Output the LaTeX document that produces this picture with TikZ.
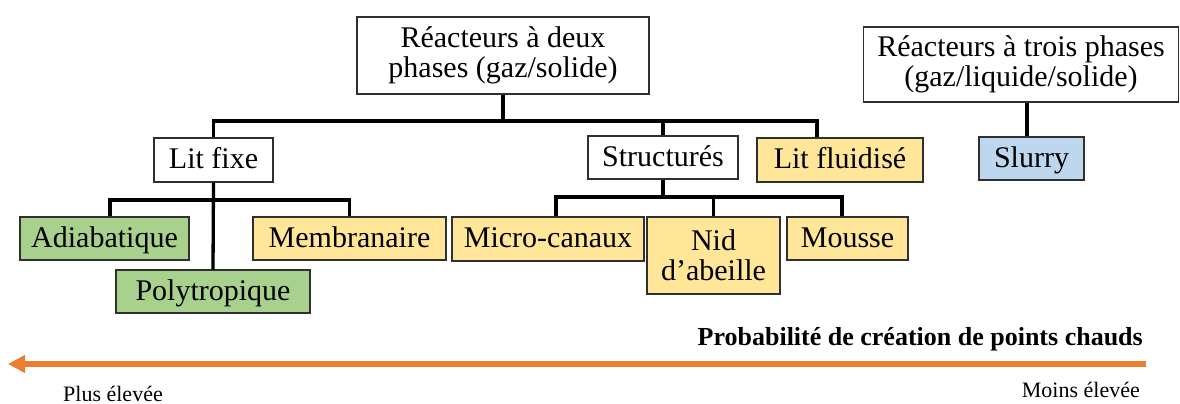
\documentclass[tikz,border=0pt]{standalone}
\usepackage{fontspec}
\setmainfont{Liberation Serif}
\usetikzlibrary{arrows.meta}
\definecolor{bgreen}{HTML}{A9D18E}
\definecolor{byellow}{HTML}{FFE699}
\definecolor{bblue}{HTML}{BDD7EE}
\definecolor{borange}{HTML}{ED7D31}
\definecolor{bline}{HTML}{303030}
\tikzset{
  box/.style={draw=bline, line width=1.3pt, inner sep=0pt, align=center,
    font=\fontsize{30}{30}\selectfont},
  oneline/.style={text height=22pt, text depth=5pt},
  conn/.style={line width=3.3pt, black},
}
\begin{document}
\begin{tikzpicture}[x=1pt,y=-1pt]
\useasboundingbox (0,0) rectangle (1180,404);
% boxes
\node[box, minimum width=292pt, minimum height=77pt] (top2) at (503,55.5) {Réacteurs à deux\\phases (gaz/solide)};
\node[box, minimum width=315pt, minimum height=75pt] (top3) at (1021,64.5) {Réacteurs à trois phases\\(gaz/liquide/solide)};
\node[box, oneline, minimum width=119pt, minimum height=44pt] (litfixe) at (213.5,160) {Lit fixe};
\node[box, oneline, minimum width=150pt, minimum height=43pt] (struct) at (663,157.5) {Structurés};
\node[box, oneline, fill=byellow, minimum width=166pt, minimum height=44pt] (fluid) at (840,160) {Lit fluidisé};
\node[box, oneline, fill=bblue, minimum width=105pt, minimum height=43pt] (slurry) at (1031.5,158.5) {Slurry};
\node[box, oneline, fill=bgreen, minimum width=169pt, minimum height=43pt] (adiab) at (104.5,238.5) {Adiabatique};
\node[box, oneline, fill=byellow, minimum width=193pt, minimum height=43pt] (membr) at (349.5,238.5) {Membranaire};
\node[box, oneline, fill=bgreen, minimum width=194pt, minimum height=43pt] (poly) at (213,291.5) {Polytropique};
\node[box, oneline, fill=byellow, minimum width=192pt, minimum height=44pt] (micro) at (548,239) {Micro-canaux};
\node[box, fill=byellow, minimum width=133pt, minimum height=77pt] (nid) at (713.5,255.5) {Nid\\d’abeille};
\node[box, oneline, fill=byellow, minimum width=121pt, minimum height=43pt] (mousse) at (847.5,238.5) {Mousse};
% connectors
\coordinate (b1) at (0,121);
\coordinate (b2) at (0,200);
\coordinate (b3) at (0,197);
\draw[conn] (top2.south) -- (top2.south |- b1);
\draw[conn] (litfixe.north) -- (litfixe.north |- b1) -- ([xshift=-23pt]fluid.north |- b1) -- ([xshift=-23pt]fluid.north);
\draw[conn] (struct.north) -- (struct.north |- b1);
\draw[conn] (litfixe.south) -- (poly.north);
\draw[conn] ([xshift=5.5pt]adiab.north) -- ([xshift=5.5pt]adiab.north |- b2) -- (membr.north |- b2) -- (membr.north);
\draw[conn] (struct.south) -- (struct.south |- b3);
\draw[conn] ([xshift=8pt]micro.north) -- ([xshift=8pt]micro.north |- b3) -- ([xshift=-5.5pt]mousse.north |- b3) -- ([xshift=-5.5pt]mousse.north);
\draw[conn] (nid.north) -- (nid.north |- b3);
\draw[conn] ([xshift=-4.5pt]slurry.north |- top3.south) -- ([xshift=-4.5pt]slurry.north);
% arrow
\coordinate (aR) at (1146,364);
\coordinate (aL) at (8,364);
\draw[borange, line width=6pt, -{Triangle[width=17pt,length=17pt]}] (aR) -- (aL);
\node[anchor=base east, inner sep=0pt, font=\fontsize{26}{28}\selectfont\bfseries] (title) at (1143,345) {Probabilité de création de points chauds};
\node[anchor=base west, inner sep=0pt, font=\fontsize{22}{24}\selectfont] (plus) at (63,401) {Plus élevée};
\node[anchor=base east, inner sep=0pt, font=\fontsize{22}{24}\selectfont] (moins) at (1140,397) {Moins élevée};
\end{tikzpicture}
\end{document}
